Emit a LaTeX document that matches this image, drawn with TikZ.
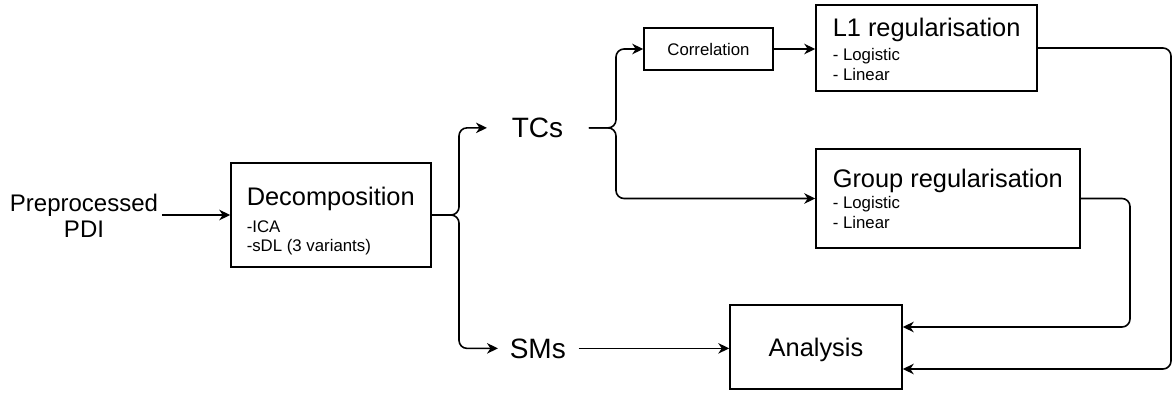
\documentclass[tikz,border=0pt]{standalone}
\usepackage{fontspec}
\setmainfont{Liberation Sans}
\usetikzlibrary{arrows.meta}
\begin{document}
\begin{tikzpicture}[x=1pt,y=-1pt,line width=1.5pt,
  box/.style={draw,line width=1.5pt,inner sep=0pt},
  arr/.style={-{Stealth[length=11pt,width=10.5pt,inset=3.5pt]},rounded corners=8pt,line width=1.6pt},
  ttl/.style={font=\fontsize{25.4}{28}\selectfont,inner sep=0pt,anchor=base west},
  sml/.style={font=\fontsize{16.8}{20}\selectfont,inner sep=0pt,anchor=base west},
  lbl/.style={font=\fontsize{28}{30}\selectfont,inner sep=0pt,anchor=base west},
  pretxt/.style={font=\fontsize{24}{26}\selectfont,inner sep=0pt,anchor=base}]
\fill[white] (0,0) rectangle (1173,392);
\useasboundingbox (0,0) rectangle (1173,392);

% boxes
\node[box,minimum width=200pt,minimum height=104pt] (dec) at (331,215) {};
\node[ttl] (dect) at (246,205) {Decomposition};
\node[sml] (dec1) at (246,232) {-ICA};
\node[sml] (dec2) at (246,251) {-sDL (3 variants)};

\node[box,minimum width=129pt,minimum height=42pt,font=\fontsize{16.8}{20}\selectfont] (cor) at (708.5,49) {Correlation};

\node[box,minimum width=221pt,minimum height=86pt] (l1) at (926.5,48) {};
\node[ttl] (l1t) at (832,36) {L1 regularisation};
\node[sml] (l1a) at (832,60) {- Logistic};
\node[sml] (l1b) at (832,80) {- Linear};

\node[box,minimum width=264pt,minimum height=99pt] (grp) at (948,198.5) {};
\node[ttl] (grpt) at (832,187) {Group regularisation};
\node[sml] (grpa) at (832,208) {- Logistic};
\node[sml] (grpb) at (832,228) {- Linear};

\node[box,minimum width=172pt,minimum height=84pt,font=\fontsize{25.4}{28}\selectfont,text depth=0pt] (ana) at (816,347) {Analysis};

% free labels
\node[lbl] (tcs) at (511,137.5) {TCs};
\node[lbl] (sms) at (509,358) {SMs};
\node[pretxt] (pre1) at (84,211) {Preprocessed};
\node[pretxt] (pre2) at (84,237) {PDI};

% routing coordinates
\coordinate (xd) at (459,0);
\coordinate (xt) at (616,0);
\coordinate (xi) at (1130,0);
\coordinate (xo) at (1171,0);

% connectors
\draw[arr] ([xshift=3pt]pre1.east |- dec.west) -- (dec.west);
\draw[arr] (dec.east) -- (dec.east -| xd) |- ([xshift=-24pt]tcs.west);
\draw[arr] (dec.east) -- (dec.east -| xd) |- ([xshift=-11pt]sms.west);
\draw[arr] ([xshift=25pt]tcs.east) -- (tcs.east -| xt) |- (cor.west);
\draw[arr] ([xshift=25pt]tcs.east) -- (tcs.east -| xt) |- (grp.west);
\draw[arr] (cor.east) -- (cor.east -| l1.west);
\draw[arr] ([xshift=12pt]sms.east) -- (sms.east -| ana.west);
\draw[arr] (l1.east) -- (l1.east -| xo) |- ([yshift=-22pt]ana.east);
\draw[arr] (grp.east) -- (grp.east -| xi) |- ([yshift=20pt]ana.east);
\end{tikzpicture}
\end{document}
